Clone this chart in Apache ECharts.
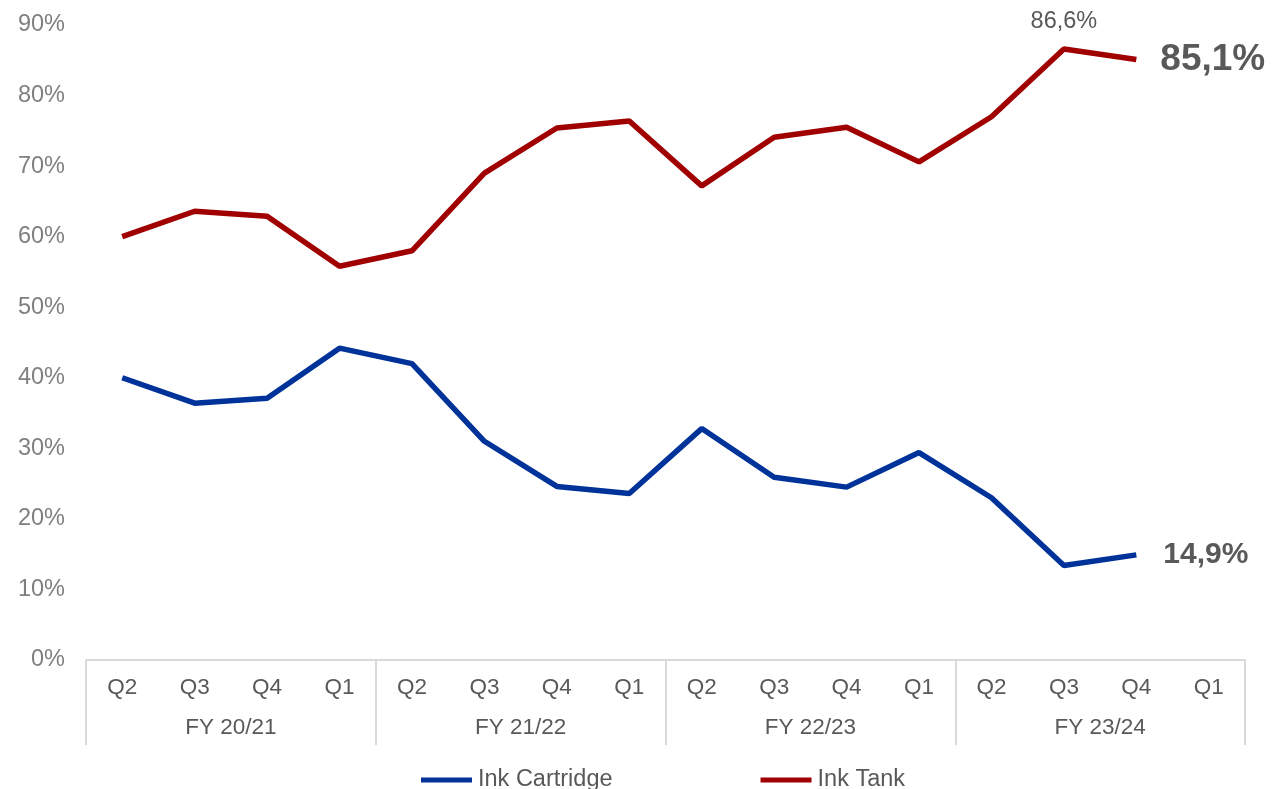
<!DOCTYPE html>
<html>
<head>
<meta charset="utf-8">
<script src="https://cdn.jsdelivr.net/npm/echarts@6/dist/echarts.min.js"></script>
<style>
  html, body { margin: 0; padding: 0; background: #fff; }
  #chart { width: 1273px; height: 789px; }
</style>
</head>
<body>
<div id="chart"></div>
<script>
/* Ink Cartridge vs Ink Tank share by quarter */

const quarters = ['Q2', 'Q3', 'Q4', 'Q1', 'Q2', 'Q3', 'Q4', 'Q1', 'Q2', 'Q3', 'Q4', 'Q1', 'Q2', 'Q3', 'Q4', 'Q1'];
const fiscalYears = ['FY 20/21', 'FY 21/22', 'FY 22/23', 'FY 23/24'];
const yTicks = [0, 10, 20, 30, 40, 50, 60, 70, 80, 90];

const inkCartridge = [40.0, 36.4, 37.1, 44.2, 42.0, 31.0, 24.6, 23.6, 32.8, 25.9, 24.5, 29.4, 23.0, 13.4, 14.9, null];
const inkTank = [60.0, 63.6, 62.9, 55.8, 58.0, 69.0, 75.4, 76.4, 67.2, 74.1, 75.5, 70.6, 77.0, 86.6, 85.1, null];

const FONT = 'Liberation Sans, Arial, sans-serif';
const BLUE = '#003399';
const RED = '#a00000';

const fmt = v => v.toFixed(1).replace('.', ',') + '%';

// which points carry a data label
const lastIdx = 14;
const peakIdx = 13;

function labelled(values, extra) {
  return values.map((v, i) => {
    if (extra[i]) return { value: v, label: Object.assign({ show: true, formatter: p => fmt(p.value) }, extra[i]) };
    return v;
  });
}

const chart = echarts.init(document.getElementById('chart'), null, { renderer: 'canvas' });

const option = {
  animation: false,
  textStyle: { fontFamily: FONT },
  grid: { left: 86, right: 28, top: 25, bottom: 129, containLabel: false },
  legend: {
    left: 416,
    top: 763,
    itemWidth: 51,
    itemHeight: 5,
    itemGap: 148,
    icon: 'rect',
    textStyle: { fontFamily: FONT, fontSize: 23.5, color: '#595959', padding: [0, 0, 0, 1] },
    data: ['Ink Cartridge', 'Ink Tank']
  },
  xAxis: [
    {
      type: 'category',
      data: quarters,
      position: 'bottom',
      axisLine: { show: true, lineStyle: { color: '#d9d9d9', width: 2 } },
      axisTick: { show: false },
      axisLabel: { fontFamily: FONT, fontSize: 22.5, color: '#595959', margin: 16, interval: 0 }
    },
    {
      type: 'category',
      data: fiscalYears,
      position: 'bottom',
      axisLine: { show: false },
      axisTick: { show: true, length: 85, lineStyle: { color: '#d9d9d9', width: 2 } },
      axisLabel: { fontFamily: FONT, fontSize: 22.5, color: '#595959', margin: 56, interval: 0 }
    }
  ],
  yAxis: {
    type: 'value',
    min: yTicks[0],
    max: yTicks[yTicks.length - 1],
    interval: 10,
    splitLine: { show: false },
    axisLine: { show: false },
    axisTick: { show: false },
    axisLabel: { fontFamily: FONT, fontSize: 23.5, color: '#7f7f7f', margin: 21, formatter: v => v + '%' }
  },
  series: [
    {
      name: 'Ink Cartridge',
      type: 'line',
      xAxisIndex: 0,
      showSymbol: true,
      symbol: 'circle',
      symbolSize: 0,
      color: BLUE,
      lineStyle: { width: 5.5, color: BLUE },
      data: labelled(inkCartridge, {
        [lastIdx]: { position: 'right', distance: 27, fontSize: 30, fontWeight: 'bold', color: '#595959', fontFamily: FONT }
      })
    },
    {
      name: 'Ink Tank',
      type: 'line',
      xAxisIndex: 0,
      showSymbol: true,
      symbol: 'circle',
      symbolSize: 0,
      color: RED,
      lineStyle: { width: 5.5, color: RED },
      data: labelled(inkTank, {
        [peakIdx]: { position: 'top', distance: 15, fontSize: 23.5, color: '#595959', fontFamily: FONT },
        [lastIdx]: { position: 'right', distance: 24, fontSize: 37, fontWeight: 'bold', color: '#595959', fontFamily: FONT }
      })
    }
  ]
};

chart.setOption(option);
window.addEventListener('resize', () => chart.resize());
</script>
</body>
</html>
